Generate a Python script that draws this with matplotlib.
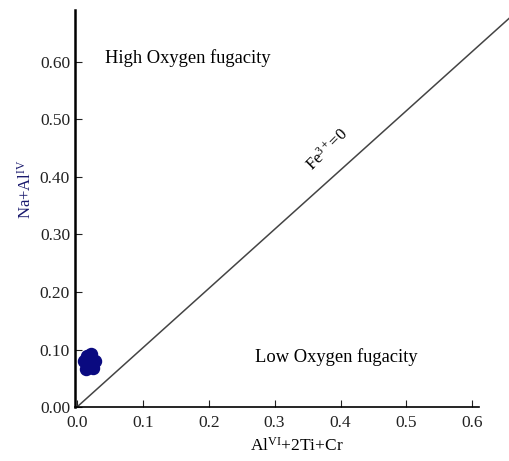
import matplotlib.pyplot as plt
import numpy as np

plt.rcParams['font.family'] = ['Liberation Serif', 'DejaVu Serif']
plt.rcParams['mathtext.fontset'] = 'custom'
plt.rcParams['mathtext.rm'] = 'Liberation Serif'
plt.rcParams['mathtext.it'] = 'Liberation Serif:italic'

# sample points (AlVI+2Ti+Cr, Na+AlIV)
x_vals = [0.015, 0.021, 0.011, 0.027, 0.017, 0.025, 0.013, 0.019]
y_vals = [0.088, 0.092, 0.080, 0.080, 0.072, 0.068, 0.066, 0.078]

x_ticks = [0.0, 0.1, 0.2, 0.3, 0.4, 0.5, 0.6]
y_ticks = [0.0, 0.1, 0.2, 0.3, 0.4, 0.5, 0.6]
line_x = [0.0, 0.66]
line_y = [0.0, 0.68]

fig = plt.figure(figsize=(5.1, 4.61), dpi=100)
ax = fig.add_axes([0.147, 0.117, 0.792, 0.861])

ax.plot(line_x, line_y, color='#444444', lw=1.1, clip_on=False)
ax.scatter(x_vals, y_vals, s=75, color='#0a0a80', zorder=3, clip_on=False)

ax.set_xlim(-0.003, 0.61)
ax.set_ylim(0, 0.69)
ax.set_xticks(x_ticks)
ax.set_xticklabels(['%.1f' % v for v in x_ticks])
ax.set_yticks(y_ticks)
ax.set_yticklabels(['%.2f' % v for v in y_ticks])
ax.tick_params(direction='in', length=5, labelsize=12.5, colors='#222222')
ax.tick_params(axis='x', pad=6)

for s in ['top', 'right']:
    ax.spines[s].set_visible(False)
ax.spines['left'].set_linewidth(1.8)
ax.spines['bottom'].set_linewidth(1.2)

ax.set_xlabel(r'Al$^{\mathrm{VI}}$+2Ti+Cr', fontsize=12.5)
ax.xaxis.set_label_coords(0.55, -0.075)
ax.set_ylabel(r'Na+Al$^{\mathrm{IV}}$', fontsize=12, color='#1a1a6e')
ax.yaxis.set_label_coords(-0.1, 0.55)

ax.text(0.042, 0.607, 'High Oxygen fugacity', fontsize=13.3, va='center')
ax.text(0.27, 0.087, 'Low Oxygen fugacity', fontsize=13.3, va='center')
ax.text(0.38, 0.447, r'Fe$^{3+}$=0', fontsize=12, rotation=45, ha='center', va='center')

fig.savefig('out.png', dpi=100)
